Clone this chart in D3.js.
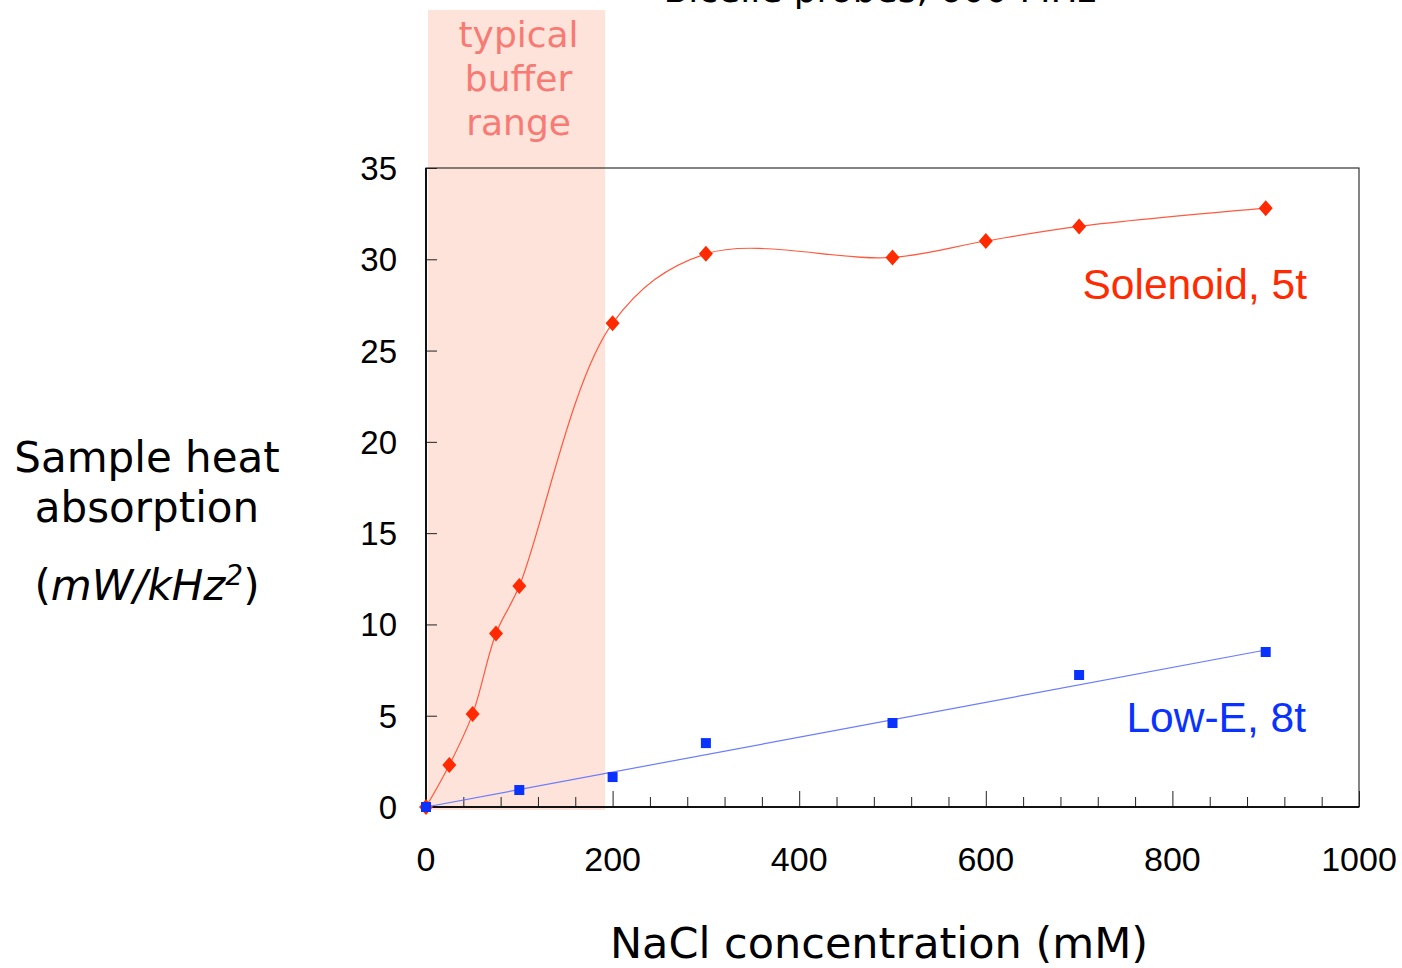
<!DOCTYPE html>
<html>
<head>
<meta charset="utf-8">
<script src="https://cdn.jsdelivr.net/npm/d3@7"></script>
<style>
  body { margin: 0; background: #fff; }
  svg text { font-family: "Liberation Sans", Arial, sans-serif; }
  svg text.verdana { font-family: "DejaVu Sans", Verdana, sans-serif; }
</style>
</head>
<body>
<div id="chart"></div>
<script>
// data
const solenoidX = [0, 25, 50, 75, 100, 200, 300, 500, 600, 700, 900];
const solenoidY = [0, 2.3, 5.1, 9.5, 12.1, 26.5, 30.3, 30.1, 31.0, 31.8, 32.8];
const lowEX = [0, 100, 200, 300, 500, 700, 900];
const lowEY = [0, 0.93, 1.64, 3.5, 4.6, 7.23, 8.49];
const lowETrendX = [0, 900];
const lowETrendY = [0, 8.6];
const bufferRange = [0, 192];
const xTicks = [0, 200, 400, 600, 800, 1000];
const yTicks = [0, 5, 10, 15, 20, 25, 30, 35];

const W = 1402, H = 968;
const margin = { left: 426, right: 43, top: 168, bottom: 161 };

const svg = d3.select('#chart').append('svg')
    .attr('width', W)
    .attr('height', H);

const x = d3.scaleLinear().domain([0, 1000]).range([margin.left, W - margin.right]);
const y = d3.scaleLinear().domain([0, 35]).range([H - margin.bottom, margin.top]);

// shaded buffer range
svg.append('rect')
    .attr('x', x(bufferRange[0]) + 2)
    .attr('y', 10)
    .attr('width', x(bufferRange[1]) - x(bufferRange[0]) - 2)
    .attr('height', y(0) + 3 - 10)
    .attr('fill', '#fde3d9');

['typical', 'buffer', 'range'].forEach((t, i) => {
  svg.append('text')
      .classed('verdana', true)
      .attr('x', (x(bufferRange[0]) + x(bufferRange[1])) / 2 + 3)
      .attr('y', 47 + i * 44)
      .attr('text-anchor', 'middle')
      .style('font-size', '36px')
      .attr('fill', '#f87a74')
      .text(t);
});

// title, cut off at the top in the original
svg.append('text')
    .classed('verdana', true)
    .attr('x', 880)
    .attr('y', 2)
    .attr('text-anchor', 'middle')
    .style('font-size', '36px')
    .attr('fill', '#000')
    .text('Bicelle probes, 600 MHz');

// plot frame
svg.append('rect')
    .attr('x', x(0))
    .attr('y', y(35))
    .attr('width', x(1000) - x(0))
    .attr('height', y(0) - y(35))
    .attr('fill', 'none')
    .attr('stroke', '#333')
    .attr('stroke-width', 1.2);

// axes with inward ticks
const xAxis = svg.append('g')
    .attr('transform', `translate(0,${y(0)})`)
    .call(d3.axisBottom(x).tickValues(d3.range(0, 1001, 40)).tickSize(-10).tickFormat(''));
xAxis.select('.domain').remove();
xAxis.selectAll('.tick line')
    .attr('y2', (d) => d % 200 === 0 ? -16 : -10)
    .attr('stroke', '#222');

const yAxis = svg.append('g')
    .attr('transform', `translate(${x(0)},0)`)
    .call(d3.axisLeft(y).tickValues(yTicks).tickSize(-11).tickFormat(''));
yAxis.select('.domain').remove();
yAxis.selectAll('.tick line').attr('stroke', '#222');

svg.append('line')
    .attr('x1', x(0)).attr('x2', x(1000))
    .attr('y1', y(0)).attr('y2', y(0))
    .attr('stroke', '#111').attr('stroke-width', 2);
svg.append('line')
    .attr('x1', x(0)).attr('x2', x(0))
    .attr('y1', y(0)).attr('y2', y(35))
    .attr('stroke', '#111').attr('stroke-width', 2);

// tick labels
svg.selectAll('.xlab')
    .data(xTicks)
    .enter().append('text')
    .attr('x', (d) => x(d))
    .attr('y', 871)
    .attr('text-anchor', 'middle')
    .style('font-size', '34px')
    .text((d) => d);

svg.selectAll('.ylab')
    .data(yTicks)
    .enter().append('text')
    .attr('x', 397)
    .attr('y', (d) => y(d) + 12)
    .attr('text-anchor', 'end')
    .style('font-size', '33px')
    .text((d) => d);

// axis titles
svg.append('text')
    .classed('verdana', true)
    .attr('x', 879)
    .attr('y', 958)
    .attr('text-anchor', 'middle')
    .style('font-size', '43px')
    .text('NaCl concentration (mM)');

const yTitle = svg.append('g')
    .attr('text-anchor', 'middle');
yTitle.append('text').classed('verdana', true).attr('x', 147).attr('y', 472)
    .style('font-size', '42px').text('Sample heat');
yTitle.append('text').classed('verdana', true).attr('x', 147).attr('y', 522)
    .style('font-size', '42px').text('absorption');
const unit = yTitle.append('text').classed('verdana', true)
    .attr('x', 147).attr('y', 600).style('font-size', '42px');
unit.append('tspan').text('(');
unit.append('tspan').style('font-style', 'italic').text('mW/kHz');
unit.append('tspan').attr('dy', -15).style('font-size', '28px').style('font-style', 'italic').text('2');
unit.append('tspan').attr('dy', 15).text(')');

// solenoid series
const solenoid = solenoidX.map((d, i) => [d, solenoidY[i]]);
svg.append('path')
    .datum(solenoid)
    .attr('fill', 'none')
    .attr('stroke', '#ff5a40')
    .attr('stroke-width', 1.2)
    .attr('d', d3.line().x((d) => x(d[0])).y((d) => y(d[1])).curve(d3.curveCatmullRom.alpha(0.5)));

svg.selectAll('.dia')
    .data(solenoid)
    .enter().append('path')
    .attr('transform', (d) => `translate(${x(d[0])},${y(d[1])})`)
    .attr('d', 'M0,-8L7,0L0,8L-7,0Z')
    .attr('fill', '#ff2a00');

// low-E series
svg.append('line')
    .attr('x1', x(lowETrendX[0])).attr('y1', y(lowETrendY[0]))
    .attr('x2', x(lowETrendX[1])).attr('y2', y(lowETrendY[1]))
    .attr('stroke', '#6a7cff')
    .attr('stroke-width', 1.2);

svg.selectAll('.sq')
    .data(lowEX.map((d, i) => [d, lowEY[i]]))
    .enter().append('rect')
    .attr('x', (d) => x(d[0]) - 5)
    .attr('y', (d) => y(d[1]) - 5)
    .attr('width', 10)
    .attr('height', 10)
    .attr('fill', '#0a32ff');

// series labels
svg.append('text')
    .attr('x', 1307)
    .attr('y', 299)
    .attr('text-anchor', 'end')
    .style('font-size', '42.5px')
    .attr('fill', '#ff2a00')
    .text('Solenoid, 5t');

svg.append('text')
    .attr('x', 1306)
    .attr('y', 732)
    .attr('text-anchor', 'end')
    .style('font-size', '42.5px')
    .attr('fill', '#0a32ff')
    .text('Low-E, 8t');
</script>
</body>
</html>
